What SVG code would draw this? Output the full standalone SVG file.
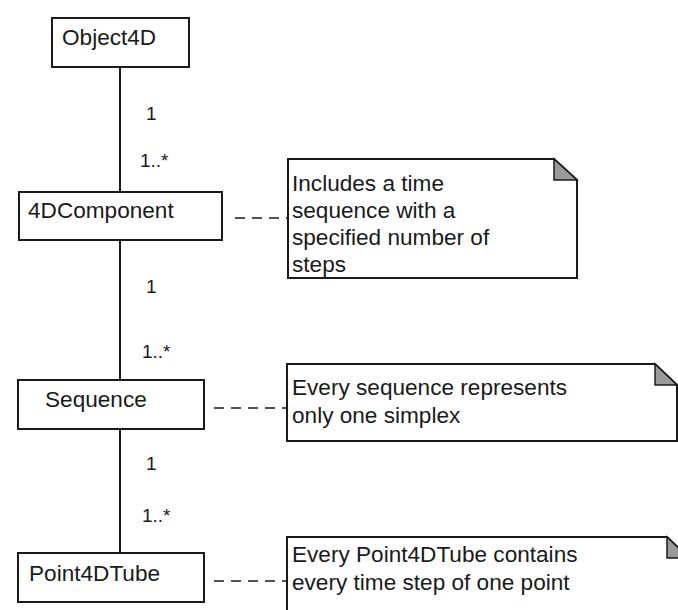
<svg xmlns="http://www.w3.org/2000/svg" width="678" height="610" viewBox="0 0 678 610">
<style>
.box{fill:#fff;stroke:#1a1a1a;stroke-width:2}
.note{fill:#fff;stroke:#1a1a1a;stroke-width:2}
.fold{fill:#9a9a9a;stroke:#1a1a1a;stroke-width:1.5;stroke-linejoin:miter}
.t{font-family:"Liberation Sans",Arial,sans-serif;font-size:22.6px;fill:#1a1a1a}
.m{font-family:"Liberation Sans",Arial,sans-serif;font-size:19px;fill:#1a1a1a}
.line{stroke:#1a1a1a;stroke-width:2;fill:none}
.dash{stroke:#1a1a1a;stroke-width:1.6;fill:none;stroke-dasharray:10 7}
</style>
<rect width="678" height="610" fill="#fff"/>
<g id="connectors">
<line class="line" x1="120" y1="67" x2="120" y2="192"/>
<line class="line" x1="120" y1="240" x2="120" y2="380"/>
<line class="line" x1="120" y1="429" x2="120" y2="553"/>
<line class="dash" x1="235" y1="218" x2="288" y2="218"/>
<line class="dash" x1="214" y1="408" x2="287" y2="408"/>
<line class="dash" x1="214" y1="581" x2="287" y2="581"/>
<text class="m" x="146" y="120">1</text>
<text class="m" x="140" y="167">1..*</text>
<text class="m" x="146" y="293">1</text>
<text class="m" x="142" y="358">1..*</text>
<text class="m" x="146" y="470">1</text>
<text class="m" x="142" y="522">1..*</text>
</g>
<g id="object4d">
<rect class="box" x="52" y="18" width="137" height="49"/>
<text class="t" x="62" y="45">Object4D</text>
</g>
<g id="component4d">
<rect class="box" x="19" y="192" width="203" height="48"/>
<text class="t" x="28" y="218">4DComponent</text>
</g>
<g id="sequence">
<rect class="box" x="18" y="380" width="186" height="49"/>
<text class="t" x="45" y="407">Sequence</text>
</g>
<g id="point4dtube">
<rect class="box" x="18" y="553" width="186" height="49"/>
<text class="t" x="29" y="581">Point4DTube</text>
</g>
<g id="note1">
<path class="note" d="M288 159 H554 L577 180 V278 H288 Z"/>
<path class="fold" d="M554 159 V180 H577 Z"/>
<text class="t" x="292" y="191">Includes a time</text>
<text class="t" x="292" y="218">sequence with a</text>
<text class="t" x="292" y="245">specified number of</text>
<text class="t" x="292" y="272">steps</text>
</g>
<g id="note2">
<path class="note" d="M287 364 H655 L677 385 V441 H287 Z"/>
<path class="fold" d="M655 364 V385 H677 Z"/>
<text class="t" x="292" y="395">Every sequence represents</text>
<text class="t" x="292" y="423">only one simplex</text>
</g>
<g id="note3">
<path class="note" d="M287 537 H667 L689 558 V620 H287 Z"/>
<path class="fold" d="M667 537 V558 H689 Z"/>
<text class="t" x="292" y="562">Every Point4DTube contains</text>
<text class="t" x="292" y="590">every time step of one point</text>
</g>
</svg>
